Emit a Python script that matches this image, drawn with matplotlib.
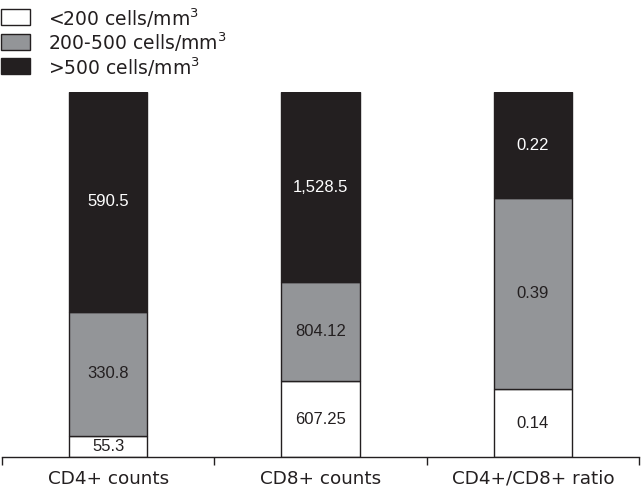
import matplotlib
matplotlib.use('Agg')
import matplotlib.pyplot as plt
from matplotlib.patches import Rectangle

plt.rcParams['font.family'] = ['Liberation Sans', 'DejaVu Sans']
plt.rcParams['mathtext.default'] = 'regular'

# categories and stacked shares (percent of bar height)
categories = ['CD4+ counts', 'CD8+ counts', 'CD4+/CD8+ ratio']
low_share = [5.8, 20.8, 18.6]     # <200 cells/mm3
mid_share = [34.0, 27.1, 52.3]    # 200-500 cells/mm3
high_share = [60.2, 52.1, 29.1]   # >500 cells/mm3

# printed values inside the segments
low_text = ['55.3', '607.25', '0.14']
mid_text = ['330.8', '804.12', '0.39']
high_text = ['590.5', '1,528.5', '0.22']

legend_labels = ['<200 cells/mm$^{3}$', '200-500 cells/mm$^{3}$', '>500 cells/mm$^{3}$']

ink = '#231f20'
grey = '#939598'
colors = ['white', grey, ink]
W, H = 642, 491

fig = plt.figure(figsize=(W / 100, H / 100), dpi=100)
ax = fig.add_axes([2 / W, 34 / H, 637 / W, 365 / H])

x = list(range(len(categories)))
width = 0.37
bottoms = [0, 0, 0]
layers = [(low_share, low_text), (mid_share, mid_text), (high_share, high_text)]
for i, (vals, txts) in enumerate(layers):
    ax.bar(x, vals, width, bottom=bottoms, color=colors[i], edgecolor=ink, linewidth=1.0, zorder=2)
    for j in x:
        ax.text(j, bottoms[j] + vals[j] / 2, txts[j], ha='center', va='center',
                fontsize=12, color='white' if i == 2 else ink, zorder=3)
    bottoms = [b + v for b, v in zip(bottoms, vals)]

ax.set_xlim(-0.5, 2.5)
ax.set_ylim(0, 100)
for s in ['left', 'right', 'top']:
    ax.spines[s].set_visible(False)
ax.spines['bottom'].set_color(ink)
ax.spines['bottom'].set_linewidth(1.0)
ax.set_yticks([])
ax.set_xticks(x)
ax.set_xticklabels(categories, fontsize=13.2, color=ink, family='DejaVu Sans')
ax.tick_params(axis='x', which='major', length=0, pad=9)
ax.set_xticks([-0.5, 0.5, 1.5, 2.5], minor=True)
ax.tick_params(axis='x', which='minor', length=6, width=1.0, color=ink, direction='out')

# legend drawn by hand so row pitch and text size match the original
for i, (c, lab) in enumerate(zip(colors, legend_labels)):
    top = 9 + 24.5 * i
    fig.add_artist(Rectangle((1 / W, 1 - (top + 16) / H), 29 / W, 16 / H,
                             transform=fig.transFigure, facecolor=c, edgecolor=ink, linewidth=1.0))
    fig.text(48 / W, 1 - (top + 17) / H, lab, fontsize=13.5, color=ink,
             family='DejaVu Sans', va='baseline', ha='left')

fig.savefig('out.png', dpi=100)
